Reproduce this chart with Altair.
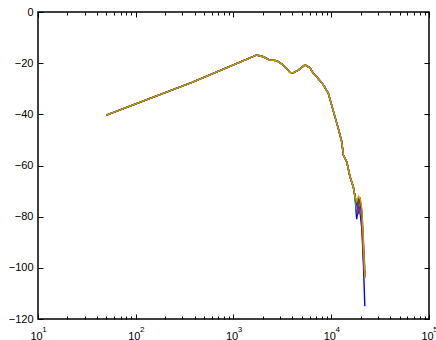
import altair as alt
import pandas as pd

# Shared part of the response (frequency in Hz, level in dB)
main_freq = [50, 376, 1476, 1726, 2018, 2362, 2766, 3230, 3782, 4090, 4604,
             5386, 6061, 6550, 7100, 8300, 9330, 10100, 10900, 11800, 12800,
             13300, 14400, 15550, 16800, 17500]
main_db = [-40.3, -27.5, -17.9, -16.8, -17.5, -18.8, -19.0, -20.7, -23.6, -23.8,
           -22.7, -20.7, -21.8, -24.0, -25.3, -28.5, -31.8, -36.4, -40.9, -45.5,
           -50.7, -55.9, -58.5, -64.4, -68.3, -72.2]

# High-frequency tails, one per series
tail_freq = [18200, 19000, 19800, 20600, 21400, 22050]
series_names = ["s1", "s2", "s3", "s4", "s5", "s6", "s7"]
series_colors = ["#0000ff", "#008000", "#ff0000", "#00bfbf", "#bf00bf", "#404040", "#bfa000"]
tails = [
    [-81, -76, -79, -85, -100, -115],
    [-79, -75, -74, -82, -95, -103],
    [-76, -74, -73, -84, -97, -103],
    [-77, -78, -77, -80, -92, -100],
    [-74, -79, -75, -78, -90, -102],
    [-75, -73, -74, -80, -94, -104],
    [-74, -72, -73, -77, -92, -104],
]

x_major = [10, 100, 1000, 10000, 100000]
x_minor = [20, 30, 40, 50, 60, 70, 80, 90,
           200, 300, 400, 500, 600, 700, 800, 900,
           2000, 3000, 4000, 5000, 6000, 7000, 8000, 9000,
           20000, 30000, 40000, 50000, 60000, 70000, 80000, 90000]
y_ticks = [-120, -100, -80, -60, -40, -20, 0]

rows = []
for name, tail in zip(series_names, tails):
    i = 0
    for f, d in zip(main_freq, main_db):
        rows.append({"series": name, "f": f, "db": d, "i": i}); i += 1
    for f, d in zip(tail_freq, tail):
        rows.append({"series": name, "f": f, "db": d, "i": i}); i += 1
df = pd.DataFrame(rows)

W, H = 391, 307
FONT = "Liberation Sans"
xs = alt.Scale(type="log", domain=[10, 100000])
ys = alt.Scale(domain=[-120, 0])
all_x = sorted(x_major + x_minor)
major_test = "indexof([10,100,1000,10000,100000], datum.value) >= 0"
xtick_size = {"condition": {"test": major_test, "value": 5}, "value": 3}

exp_expr = ("({'10':'1','100':'2','1000':'3','10000':'4','100000':'5'})"
            "[toString(datum.value)]")

lines = alt.Chart(df).mark_line(strokeWidth=1.4).encode(
    x=alt.X("f:Q", scale=xs, title=None,
            axis=alt.Axis(values=x_major, labelExpr="'10'", ticks=False, tickSize=0,
                          domain=False, grid=False, labelPadding=11, labelOffset=-2,
                          labelFont=FONT, labelFontSize=11, labelColor="black",
                          labelFlush=False, orient="bottom")),
    y=alt.Y("db:Q", scale=ys, title=None,
            axis=alt.Axis(values=y_ticks, ticks=False, tickSize=0, domain=False, grid=False,
                          labelPadding=5, labelFont=FONT, labelFontSize=11,
                          labelColor="black", orient="left")),
    color=alt.Color("series:N", scale=alt.Scale(domain=series_names, range=series_colors),
                    legend=None),
    order="i:Q",
)

tick_common = dict(labels=False, tickColor="black", tickWidth=1, tickOpacity=1,
                   domain=False, grid=False)

inner1 = alt.Chart(df).mark_point(opacity=0).encode(
    x=alt.X("f:Q", scale=xs, title=None,
            axis=alt.Axis(values=all_x, tickSize=xtick_size, orient="top", offset=-H,
                          **tick_common)),
    y=alt.Y("db:Q", scale=ys, title=None,
            axis=alt.Axis(values=y_ticks, tickSize=5, orient="right", offset=-W,
                          **tick_common)),
)

inner2 = alt.Chart(df).mark_point(opacity=0).encode(
    x=alt.X("f:Q", scale=xs, title=None,
            axis=alt.Axis(values=all_x, tickSize=xtick_size, orient="bottom", offset=-H,
                          **tick_common)),
    y=alt.Y("db:Q", scale=ys, title=None,
            axis=alt.Axis(values=y_ticks, tickSize=5, orient="left", offset=-W,
                          **tick_common)),
)

# exponent digits of the x tick labels
inner3 = alt.Chart(df).mark_point(opacity=0).encode(
    x=alt.X("f:Q", scale=xs, title=None,
            axis=alt.Axis(values=x_major, labelExpr=exp_expr, ticks=False, tickSize=0,
                          domain=False, grid=False, labelPadding=6, labelOffset=6,
                          labelFont=FONT, labelFontSize=8, labelColor="black",
                          labelFlush=False, orient="bottom")),
)

chart = alt.layer(inner1, inner2, inner3, lines).resolve_axis(
    x="independent", y="independent"
).properties(
    width=W, height=H,
    autosize=alt.AutoSizeParams(type="none"),
    padding={"left": 38, "top": 12, "right": 7, "bottom": 21},
).configure(
    background="white",
    view=alt.ViewConfig(stroke="black", strokeWidth=1.5, strokeOpacity=1),
)

chart.save("out.html", embed_options={"renderer": "svg", "actions": False})
